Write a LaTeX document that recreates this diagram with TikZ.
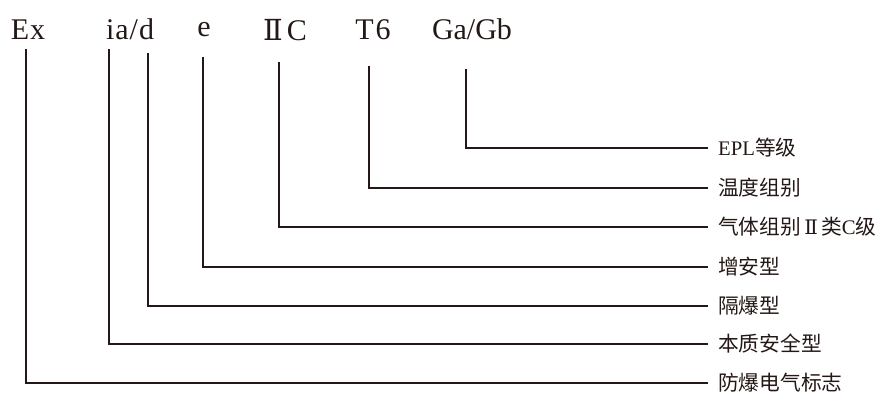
\documentclass[tikz,border=0pt]{standalone}
\usepackage{fontspec}
\setmainfont{Liberation Serif}
\newfontfamily\cjk{Noto Sans CJK SC}
\newfontfamily\lat{Liberation Serif}
\newfontfamily\romnum{DejaVu Serif}
\definecolor{ink}{RGB}{35,24,21}
\begin{document}
\begin{tikzpicture}[x=1pt,y=-1pt,
  code/.style={inner sep=0pt,anchor=base,font=\fontsize{30}{30}\selectfont,text=ink},
  lbl/.style={anchor=west,inner xsep=10pt,inner ysep=0pt,font=\cjk\fontsize{20.7}{20.7}\selectfont,text=ink},
  conn/.style={draw=ink,line width=1.2pt}]
\useasboundingbox (0,0) rectangle (880,392);
% top codes
\node[code] (ex) at (28,39) {E\kern1pt x};
\node[code] (iad) at (130,39) {i\kern1pt a\kern1pt /\kern1pt d};
\node[code] (e) at (204,36) {e};
\node[code] (iic) at (285,40) {{\romnum\fontsize{29}{29}\selectfont Ⅱ}\kern4pt C};
\node[code] (t6) at (373,39) {T\kern2pt 6};
\node[code] (gagb) at (472,39) {Ga/Gb};
% line tops
\coordinate (cEx) at (26,49);
\coordinate (cIa) at (109,49);
\coordinate (cD) at (148,53);
\coordinate (cE) at (203,57);
\coordinate (cIIC) at (279,62);
\coordinate (cT) at (369,66);
\coordinate (cG) at (466,69);
% labels
\node[lbl] (l1) at (708,148) {{\lat EPL}等级};
\node[lbl] (l2) at (708,188) {温度组别};
\node[lbl] (l3) at (708,227) {气体组别{\romnum\fontsize{20}{20}\selectfont\,Ⅱ\,}类{\lat C}级};
\node[lbl] (l4) at (708,267) {增安型};
\node[lbl] (l5) at (708,306) {隔爆型};
\node[lbl] (l6) at (708,344) {本质安全型};
\node[lbl] (l7) at (708,383) {防爆电气标志};
% connectors
\draw[conn] (cG) |- (l1.west);
\draw[conn] (cT) |- (l2.west);
\draw[conn] (cIIC) |- (l3.west);
\draw[conn] (cE) |- (l4.west);
\draw[conn] (cD) |- (l5.west);
\draw[conn] (cIa) |- (l6.west);
\draw[conn] (cEx) |- (l7.west);
\end{tikzpicture}
\end{document}
